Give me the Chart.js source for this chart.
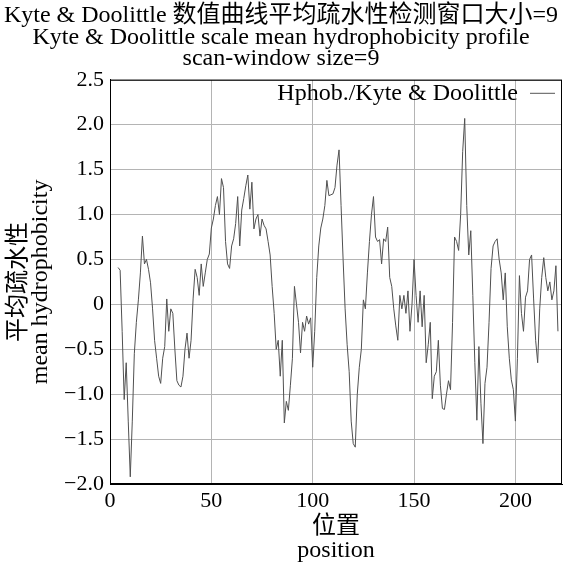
<!DOCTYPE html>
<html>
<head>
<meta charset="utf-8">
<script src="https://cdn.jsdelivr.net/npm/chart.js@4/dist/chart.umd.min.js"></script>
<style>
  html, body { margin: 0; padding: 0; background: #fff; }
  #wrap { width: 568px; height: 563px; }
</style>
</head>
<body>
<div id="wrap"><canvas id="hphobChart" width="568" height="563"></canvas></div>
<script>
// window-averaged hydrophobicity, one value per residue, starting at residue 4
const firstPosition = 4;
const hydrophobicity = [
  0.41, 0.38, -0.3, -1.06, -0.65, -1.3, -1.92, -1.3, -0.55, -0.2,
  0.05, 0.35, 0.76, 0.45, 0.5, 0.39, 0.24, -0.05, -0.4, -0.6,
  -0.8, -0.88, -0.6, -0.47, 0.06, -0.3, -0.05, -0.1, -0.5, -0.85,
  -0.9, -0.92, -0.8, -0.5, -0.32, -0.6, -0.4, 0.06, 0.39, 0.3,
  0.1, 0.45, 0.2, 0.35, 0.5, 0.56, 0.85, 0.95, 1.1, 1.2,
  1.0, 1.4, 1.3, 0.7, 0.45, 0.4, 0.65, 0.73, 0.9, 1.2,
  0.65, 1.05, 1.18, 1.32, 1.44, 1.06, 1.36, 0.84, 0.95, 1.0,
  0.76, 0.95, 0.88, 0.84, 0.7, 0.55, 0.2, -0.1, -0.5, -0.4,
  -0.8, -0.4, -1.32, -1.08, -1.18, -0.9, -0.6, 0.2, 0.0, -0.2,
  -0.54, -0.2, -0.3, -0.13, -0.22, -0.15, -0.7, -0.3, 0.3, 0.65,
  0.85, 0.95, 1.1, 1.38, 1.21, 1.22, 1.23, 1.3, 1.55, 1.72,
  1.1, 0.5, -0.05, -0.45, -0.75, -1.3, -1.55, -1.59, -1.0, -0.7,
  -0.5, 0.05, -0.05, 0.35, 0.7, 1.0, 1.2, 0.75, 0.7, 0.72,
  0.45, 0.73, 0.7, 0.86, 0.3, 0.2, -0.05, -0.24, -0.4, 0.1,
  -0.05, 0.1, -0.1, 0.15, -0.3, 0.0, 0.5, 0.1, -0.2, 0.15,
  -0.25, 0.1, -0.65, -0.45, -0.2, -1.05, -0.8, -0.75, -0.4, -0.9,
  -1.16, -1.17, -1.0, -0.85, -0.95, -0.2, 0.75, 0.7, 0.6, 1.0,
  1.7, 2.07, 1.1, 0.55, 0.82, 0.1, -0.65, -1.29, -0.47, -1.1,
  -1.55, -0.88, -0.7, -0.2, 0.4, 0.65, 0.7, 0.73, 0.5, 0.35,
  0.05, 0.35, -0.25, -0.6, -0.84, -0.95, -1.3, -0.6, 0.32, -0.1,
  -0.3, 0.08, 0.15, 0.5, 0.55, 0.06, -0.4, -0.65, -0.05, 0.3,
  0.52, 0.3, 0.15, 0.25, 0.05, 0.15, 0.43, -0.3
];
const positions = hydrophobicity.map((_, i) => firstPosition + i);

const xTicks = [0, 50, 100, 150, 200];
const yTicks = [-2.0, -1.5, -1.0, -0.5, 0, 0.5, 1.0, 1.5, 2.0, 2.5];
const yTickLabels = ["\u22122.0", "\u22121.5", "\u22121.0", "\u22120.5", "0", "0.5", "1.0", "1.5", "2.0", "2.5"];

const titleLines = [
  "Kyte & Doolittle 数值曲线平均疏水性检测窗口大小=9",
  "Kyte & Doolittle scale mean hydrophobicity profile",
  "scan-window size=9"
];
const seriesName = "Hphob./Kyte & Doolittle";

const serif = "'Liberation Serif', 'Noto Sans CJK SC', serif";
const gridColor = "#b4b4b4";

// frame around the plot + legend in the top right corner
const frameAndLegend = {
  id: "frameAndLegend",
  afterDraw(chart) {
    const { ctx, chartArea: a } = chart;
    ctx.save();
    ctx.strokeStyle = "#000";
    ctx.lineWidth = 1;
    ctx.strokeRect(a.left + 0.5, a.top + 0.5, a.right - a.left - 1, a.bottom - a.top - 1);

    ctx.font = "24px " + serif;
    ctx.fillStyle = "#000";
    ctx.textAlign = "right";
    ctx.textBaseline = "middle";
    ctx.fillText(seriesName, a.right - 44, a.top + 14);
    ctx.strokeStyle = "#555";
    ctx.beginPath();
    ctx.moveTo(a.right - 32, a.top + 13.5);
    ctx.lineTo(a.right - 7, a.top + 13.5);
    ctx.stroke();
    ctx.restore();
  }
};

new Chart(document.getElementById("hphobChart"), {
  type: "line",
  data: {
    datasets: [{
      label: seriesName,
      data: positions.map((p, i) => ({ x: p, y: hydrophobicity[i] })),
      borderColor: "#505050",
      borderWidth: 1,
      pointRadius: 0,
      tension: 0
    }]
  },
  options: {
    responsive: false,
    animation: false,
    layout: { padding: { left: 0, right: 6, top: 0, bottom: 0 } },
    plugins: {
      legend: { display: false },
      tooltip: { enabled: false },
      title: {
        display: true,
        text: titleLines,
        color: "#000",
        font: { family: serif, size: 24, weight: "normal", lineHeight: 0.9 },
        padding: { top: 5, bottom: 10 }
      }
    },
    scales: {
      x: {
        type: "linear",
        min: 0,
        max: 223,
        afterBuildTicks: s => { s.ticks = xTicks.map(v => ({ value: v })); },
        afterFit: s => { s.height = 79; },
        grid: { color: gridColor, drawTicks: false },
        border: { color: "#000" },
        ticks: { color: "#000", padding: 4, maxRotation: 0, font: { family: serif, size: 22 } },
        title: {
          display: true,
          text: ["位置", "position"],
          color: "#000",
          font: { family: serif, size: 24, lineHeight: 1.0 },
          padding: { top: 0, bottom: 0 }
        }
      },
      y: {
        min: -2,
        max: 2.5,
        afterBuildTicks: s => { s.ticks = yTicks.map(v => ({ value: v })); },
        afterFit: s => { s.width = 110; },
        grid: { color: gridColor, drawTicks: false },
        border: { color: "#000" },
        ticks: {
          color: "#000",
          padding: 6,
          font: { family: serif, size: 22 },
          callback: (v, i) => yTickLabels[i]
        },
        title: {
          display: true,
          text: ["平均疏水性", "mean hydrophobicity"],
          color: "#000",
          font: { family: serif, size: 24, lineHeight: 0.95 },
          padding: { top: 7, bottom: 0 }
        }
      }
    }
  },
  plugins: [frameAndLegend]
});
</script>
</body>
</html>
